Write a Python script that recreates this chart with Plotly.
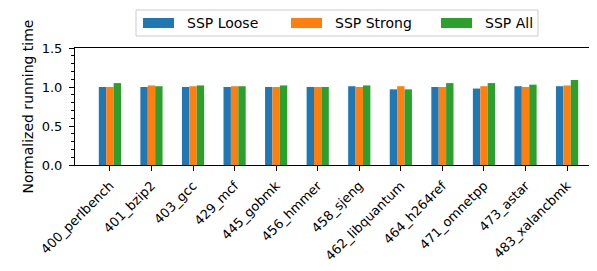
import plotly.graph_objects as go

benchmarks = ["400_perlbench", "401_bzip2", "403_gcc", "429_mcf", "445_gobmk", "456_hmmer",
              "458_sjeng", "462_libquantum", "464_h264ref", "471_omnetpp", "473_astar", "483_xalancbmk"]
ssp_loose = [1.00, 1.00, 1.00, 1.00, 1.00, 1.00, 1.01, 0.97, 1.00, 0.98, 1.01, 1.01]
ssp_strong = [1.00, 1.02, 1.01, 1.01, 1.00, 1.00, 1.00, 1.01, 1.00, 1.01, 1.00, 1.02]
ssp_all = [1.05, 1.01, 1.02, 1.01, 1.02, 1.00, 1.02, 0.97, 1.05, 1.05, 1.03, 1.09]

series_names = ["SSP Loose", "SSP Strong", "SSP All"]
series_colors = ["#1f77b4", "#ff7f0e", "#2ca02c"]
series_values = [ssp_loose, ssp_strong, ssp_all]

FONT = "DejaVu Sans"
W, H = 597, 271
L, R, T, B = 67, 3, 40, 114
pw, ph = W - L - R, H - T - B

fig = go.Figure()
for name, color, vals in zip(series_names, series_colors, series_values):
    fig.add_trace(go.Bar(x=benchmarks, y=vals, name=name, marker=dict(color=color, line=dict(width=0)),
                         showlegend=False))

fig.update_layout(
    width=W, height=H,
    margin=dict(l=L, r=R, t=T, b=B),
    paper_bgcolor="white", plot_bgcolor="white",
    font=dict(family=FONT, size=13, color="black"),
    barmode="group", bargap=0.466, bargroupgap=0,
)
fig.update_xaxes(
    range=[-0.84, 11.84], showline=True, linecolor="black", linewidth=1, mirror=True,
    ticks="outside", ticklen=5, tickcolor="black", tickangle=-45, showgrid=False,
    tickfont=dict(size=13), ticklabelstandoff=2,
)
fig.update_yaxes(
    range=[0, 1.5], tickvals=[0, 0.5, 1.0, 1.5], tickformat=".1f",
    showline=True, linecolor="black", linewidth=1, mirror=True,
    ticks="outside", ticklen=5, tickcolor="black", showgrid=False, zeroline=False,
    minor=dict(dtick=0.1, ticks="outside", ticklen=3, tickcolor="black", showgrid=False),
    title=dict(text="Normalized running time", font=dict(size=14), standoff=4),
    tickfont=dict(size=13), ticklabelstandoff=4,
)

# Legend drawn as framed box above the plot (paper coordinates derived from pixel layout)
def px_x(p):
    return (p - L) / pw

def px_y(p):
    return (H - B - p) / ph

fig.add_shape(type="rect", xref="paper", yref="paper",
              x0=px_x(128), x1=px_x(530), y0=px_y(28), y1=px_y(2),
              line=dict(color="#cccccc", width=1), fillcolor="white", layer="above")
patch_left = [135, 283, 433]
for name, color, xl in zip(series_names, series_colors, patch_left):
    fig.add_shape(type="rect", xref="paper", yref="paper",
                  x0=px_x(xl), x1=px_x(xl + 31), y0=px_y(20), y1=px_y(10),
                  line=dict(width=0), fillcolor=color, layer="above")
    fig.add_annotation(text=name, xref="paper", yref="paper", x=px_x(xl + 42), y=px_y(15),
                       xanchor="left", yanchor="middle", showarrow=False,
                       font=dict(family=FONT, size=14, color="black"))

fig.write_html("out.html")
